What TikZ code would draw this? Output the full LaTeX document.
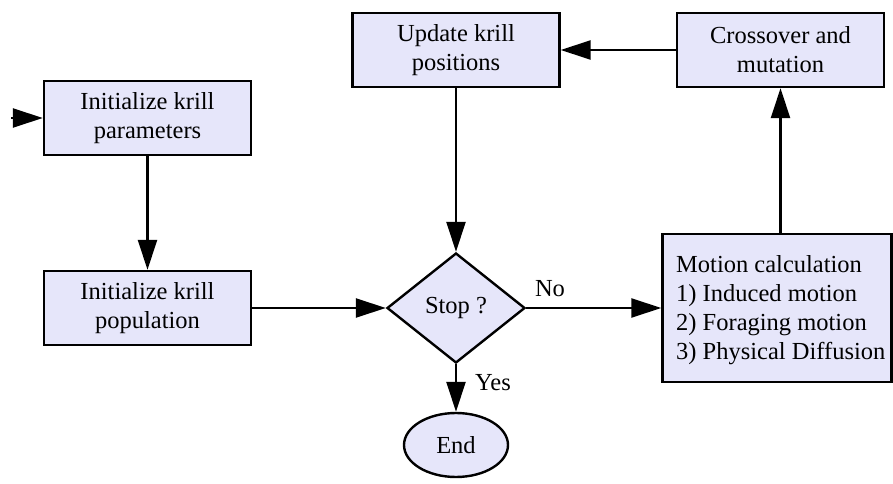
\documentclass[tikz,border=0pt]{standalone}
\usepackage{fontspec}
\setmainfont{Liberation Serif}
\newfontfamily\diagfont{Liberation Serif}
\usetikzlibrary{arrows.meta,shapes.geometric}
\definecolor{boxfill}{RGB}{230,230,250}
\begin{document}
\begin{tikzpicture}[x=1bp,y=-1bp,
  every node/.style={font=\diagfont\fontsize{24.5bp}{29bp}\selectfont},
  box/.style={draw, line width=2.4bp, fill=boxfill, minimum width=207bp,
    minimum height=74bp, align=center, inner sep=0pt},
  decision/.style={draw, diamond, line width=2.4bp, fill=boxfill, aspect=1.2545,
    minimum width=138bp, minimum height=110bp, inner sep=0pt},
  terminal/.style={draw, ellipse, line width=2.4bp, fill=boxfill,
    minimum width=104bp, minimum height=64bp, inner sep=0pt},
  arr/.style={line width=2.4bp, -{Triangle[length=30bp,width=19bp]}},
  lbl/.style={inner sep=0pt}
]
\useasboundingbox (0,0) rectangle (893,484);
\node[box] (params) at (147.5,118) {Initialize krill\\parameters};
\node[box] (pop) at (147.5,308) {Initialize krill\\population};
\node[box] (update) at (456,50) {Update krill\\positions};
\node[box] (cross) at (780.5,50) {Crossover and\\mutation};
\node[decision] (stop) at (456,308) {Stop ?};
\node[box, minimum width=229bp, minimum height=148bp] (motion) at (777,308) {};
\node[lbl, anchor=west, align=left] (motiontxt) at (676,310)
  {Motion calculation\\1) Induced motion\\2) Foraging motion\\3) Physical Diffusion};
\node[terminal] (end) at (456,445) {End};
\coordinate (in) at (11,118);
\node[lbl] (no) at (550,289) {No};
\node[lbl] (yes) at (493,383) {Yes};

\draw[arr] (in) -- (params.west);
\draw[arr] (params.south) -- (pop.north);
\draw[arr] (pop.east) -- (stop.west);
\draw[arr] (stop.east) -- (motion.west);
\draw[arr] (cross.south |- motion.north) -- (cross.south);
\draw[arr] (cross.west) -- (update.east);
\draw[arr] (update.south) -- (stop.north);
\draw[arr] (stop.south) -- (end.north);
\end{tikzpicture}
\end{document}
